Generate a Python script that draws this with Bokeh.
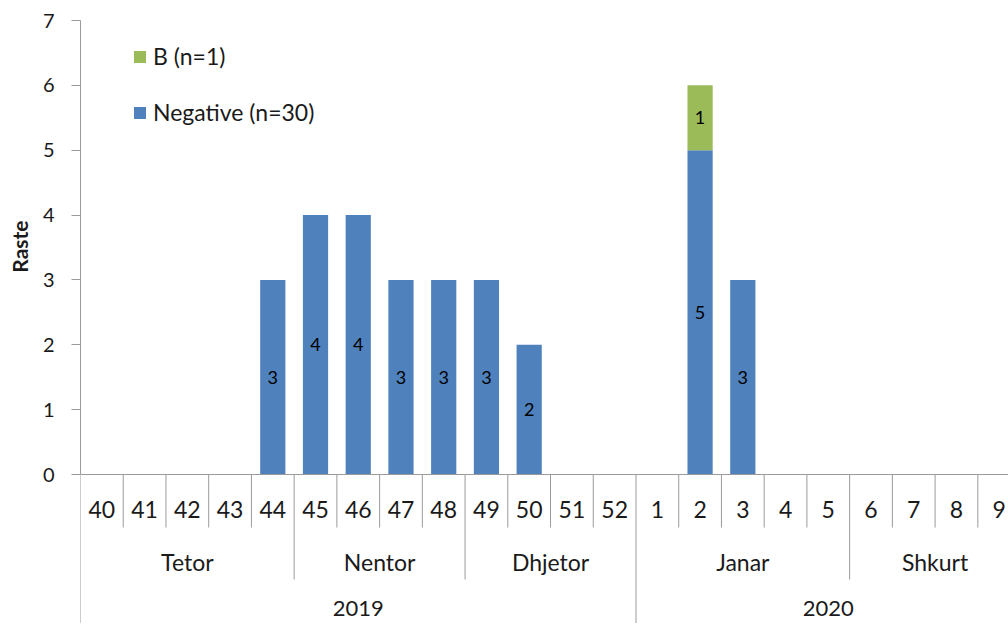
from bokeh.plotting import figure
from bokeh.models import Range1d, FixedTicker, Span, ColumnDataSource, Legend, LegendItem, Title
from bokeh.core.properties import value
from bokeh.embed import file_html
from bokeh.resources import INLINE

weeks = ["40", "41", "42", "43", "44", "45", "46", "47", "48", "49", "50", "51", "52",
         "1", "2", "3", "4", "5", "6", "7", "8", "9"]
negative = [0, 0, 0, 0, 3, 4, 4, 3, 3, 3, 2, 0, 0, 0, 5, 3, 0, 0, 0, 0, 0, 0]
b_type = [0, 0, 0, 0, 0, 0, 0, 0, 0, 0, 0, 0, 0, 0, 1, 0, 0, 0, 0, 0, 0, 0]
months = ["Tetor", "Nentor", "Dhjetor", "Janar", "Shkurt"]
month_weeks = [5, 4, 4, 5, 4]
years = ["2019", "2020"]
year_weeks = [13, 9]
y_ticks = [0, 1, 2, 3, 4, 5, 6, 7]

FONT = "Lato"
TXT = "#1a1a1a"
GRID = "#9a9a9a"
BLUE = "#4F81BD"
GREEN = "#9BBB59"

px_per_unit = 454 / 7.0
cat_px = 42.73
W, H = 1008, 623
TOP, LEFT = 20, 80
frame_h = H - TOP
frame_w = W - LEFT
n = len(weeks)
p = figure(width=W, height=H, output_backend="svg", toolbar_location=None,
           x_range=Range1d(0, frame_w / cat_px),
           y_range=Range1d(-(frame_h - 454) / px_per_unit, 7),
           x_axis_location=None, min_border_left=LEFT, min_border_right=0,
           min_border_top=TOP, min_border_bottom=0)
p.grid.visible = False
p.outline_line_color = None
p.background_fill_color = "white"

ya = p.yaxis[0]
ya.bounds = (0, 7)
ya.ticker = FixedTicker(ticks=y_ticks)
ya.minor_tick_line_color = None
ya.major_tick_in = 0
ya.major_tick_out = 9
ya.axis_line_color = GRID
ya.major_tick_line_color = GRID
ya.major_label_text_font = FONT
ya.major_label_text_font_size = "20px"
ya.major_label_text_color = TXT
ya.major_label_standoff = 17

p.add_layout(Title(text="Raste", align="right", offset=200, text_font=FONT,
                   text_font_size="21px", text_font_style="bold", text_color=TXT,
                   standoff=11, vertical_align="top"), "left")

p.add_layout(Span(location=0, dimension="width", line_color=GRID, line_width=1))

xs = [i + 0.5 for i in range(n)]
src = ColumnDataSource(dict(x=xs, neg=negative, b=b_type,
                            btop=[a + c for a, c in zip(negative, b_type)]))
r_neg = p.vbar(x="x", width=0.59, bottom=0, top="neg", source=src,
               fill_color=BLUE, line_color=None)
r_b = p.vbar(x="x", width=0.59, bottom="neg", top="btop", source=src,
             fill_color=GREEN, line_color=None)

# value labels
lx, ly, lt = [], [], []
for i in range(n):
    if negative[i] > 0:
        lx.append(xs[i]); ly.append(negative[i] / 2); lt.append(str(negative[i]))
    if b_type[i] > 0:
        lx.append(xs[i]); ly.append(negative[i] + b_type[i] / 2); lt.append(str(b_type[i]))
p.text(x=lx, y=ly, text=lt, text_font=value(FONT), text_font_size="18px",
       text_color="black", text_align="center", text_baseline="middle")

# category table below the axis
month_bounds = [0]
for c in month_weeks:
    month_bounds.append(month_bounds[-1] + c)
year_bounds = [0]
for c in year_weeks:
    year_bounds.append(year_bounds[-1] + c)

sx, sy1 = [], []
for i in range(n + 1):
    if i in year_bounds:
        depth = -3.0
    elif i in month_bounds:
        depth = -105 / px_per_unit
    else:
        depth = -53 / px_per_unit
    sx.append(i); sy1.append(depth)
p.segment(x0=sx, y0=[0] * len(sx), x1=sx, y1=sy1, line_color=GRID, line_width=1)

p.text(x=xs, y=[-35 / px_per_unit] * n, text=weeks, text_font=value(FONT),
       text_font_size="23px", text_color=TXT, text_align="center", text_baseline="middle")
mx = [(month_bounds[k] + month_bounds[k + 1]) / 2 for k in range(len(months))]
p.text(x=mx, y=[-87 / px_per_unit] * len(months), text=months, text_font=value(FONT),
       text_font_size="23px", text_color=TXT, text_align="center", text_baseline="middle")
yx = [(year_bounds[k] + year_bounds[k + 1]) / 2 for k in range(len(years))]
p.text(x=yx, y=[-134 / px_per_unit] * len(years), text=years, text_font=value(FONT),
       text_font_size="22px", text_color=TXT, text_align="center", text_baseline="middle")

legend = Legend(items=[LegendItem(label="B (n=1)", renderers=[r_b]),
                       LegendItem(label="Negative (n=30)", renderers=[r_neg])],
                location=(52, frame_h - 106), orientation="vertical",
                glyph_width=15, glyph_height=15, label_height=15,
                spacing=28, padding=0, margin=0, label_standoff=6,
                label_text_font=FONT, label_text_font_size="23px",
                label_text_color=TXT, border_line_color=None,
                background_fill_alpha=0)
p.add_layout(legend)

open("out.html", "w").write(file_html(p, INLINE))
